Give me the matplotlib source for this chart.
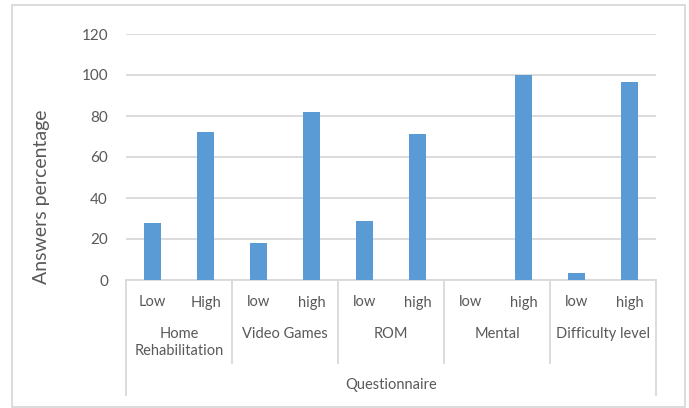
import matplotlib.pyplot as plt
from matplotlib.patches import Rectangle
from matplotlib.transforms import blended_transform_factory

groups = ["Home\nRehabilitation", "Video Games", "ROM", "Mental", "Difficulty level"]
levels = ["Low", "High", "low", "high", "low", "high", "low", "high", "low", "high"]
values = [28, 72, 18, 82, 29, 71, 0, 100, 3.5, 96.5]

text_color = "#595959"
line_color = "#D9D9D9"
bar_color = "#5B9BD5"

plt.rcParams["font.family"] = ["Lato", "DejaVu Sans"]

W, H = 689, 408
fig = plt.figure(figsize=(W / 100, H / 100), dpi=100)

# plot area in pixel terms: x 126..656, y 34..280 (from top)
ax = fig.add_axes([126 / W, (H - 280) / H, 530 / W, 246 / H])

x = list(range(len(values)))
ax.bar(x, values, width=0.31, color=bar_color, zorder=3)

ax.set_xlim(-0.5, len(values) - 0.5)
ax.set_ylim(0, 120)
ax.set_yticks(range(0, 121, 20))
ax.yaxis.grid(True, color=line_color, linewidth=1.3, zorder=0)
ax.set_xticks([])
ax.tick_params(axis="y", length=0, pad=13, labelsize=11, labelcolor=text_color)
for name in ["top", "right", "left"]:
    ax.spines[name].set_visible(False)
ax.spines["bottom"].set_color(line_color)
ax.spines["bottom"].set_linewidth(1.3)

# multi-level category axis
trans = blended_transform_factory(ax.transData, ax.transAxes)
px = 1 / 246.0
for i, name in enumerate(levels):
    ax.text(i, -22.5 * px, name, transform=trans, ha="center", va="center",
            fontsize=10.5, color=text_color)

for g, name in enumerate(groups):
    ax.text(2 * g + 0.5, -47 * px, name, transform=trans, ha="center", va="top",
            fontsize=10.5, color=text_color, linespacing=1.3)

for s in range(len(groups) + 1):
    bottom = -115 * px if s in (0, len(groups)) else -83 * px
    ax.plot([2 * s - 0.5, 2 * s - 0.5], [0, bottom], transform=trans,
            color=line_color, linewidth=1.3, clip_on=False)

ax.text((len(values) - 1) / 2, -105 * px, "Questionnaire", transform=trans,
        ha="center", va="center", fontsize=10.5, color=text_color)

fig.text(42 / W, (H - 197) / H, "Answers percentage", rotation=90,
         ha="center", va="center", fontsize=14, color=text_color)

# chart frame
fig.patches.append(Rectangle((12 / W, 1 / H), 673 / W, 402 / H,
                             transform=fig.transFigure, fill=False,
                             edgecolor=line_color, linewidth=1.3))

fig.savefig("out.png", dpi=100)
